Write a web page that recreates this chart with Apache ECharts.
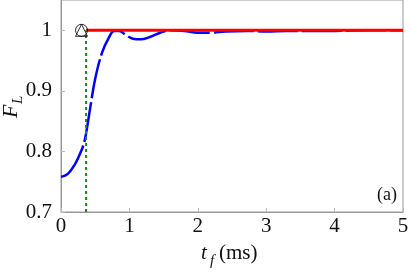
<!DOCTYPE html>
<html><head><meta charset="utf-8">
<script src="https://cdn.jsdelivr.net/npm/echarts@6/dist/echarts.min.js"></script>
<style>html,body{margin:0;padding:0;background:#fff}#c{width:411px;height:273px}</style>
</head><body><div id="c"></div>
<script>
const tValues = [0,0.1,0.2,0.3,0.35,0.43,0.5,0.6,0.7,0.78,0.85,0.95,1.05,1.17,1.3,1.45,1.6,1.8,2.0,2.2,2.4,2.7,3.0,3.3,3.6,4.0,4.5,5.0];
const fidelity = [0.758,0.763,0.778,0.802,0.82,0.874,0.92,0.963,0.988,0.999,0.999,0.992,0.986,0.985,0.989,0.996,1.0,0.999,0.996,0.996,0.998,0.999,0.998,0.999,0.999,0.999,1.0,1.0];
const tOpt = 0.366;
const targetF = 1.0;
const markerT = 0.30;
const xTicks = [0,1,2,3,4,5];
const yTicks = [0.7,0.8,0.9,1.0];

const font = 'Liberation Serif';
const chart = echarts.init(document.getElementById('c'));
function txt(x,y,text,size,italic,rot){
  return {type:'text',x:x,y:y,rotation:rot||0,silent:true,
    style:{text:text,fontFamily:font,fontSize:size,fontStyle:italic?'italic':'normal',fill:'#111',
      textAlign:'left',textVerticalAlign:'bottom'}};
}
chart.setOption({
  animation:false,
  grid:{left:61,right:8,top:0,bottom:61,containLabel:false,outerBoundsMode:'none',show:true,borderColor:'#999',borderWidth:1},
  xAxis:{type:'value',min:0,max:5,interval:1,
    axisLine:{show:true,lineStyle:{color:'#999'}},
    axisTick:{show:true,inside:true,length:4,lineStyle:{color:'#bbb'}},
    splitLine:{show:false},
    axisLabel:{color:'#111',fontFamily:font,fontSize:21,margin:4,
      formatter:v=>xTicks.includes(v)?String(v):''}
  },
  yAxis:{type:'value',min:0.7,max:1.05,interval:0.1,
    axisLine:{show:true,lineStyle:{color:'#999'}},
    axisTick:{show:true,inside:true,length:4,lineStyle:{color:'#bbb'}},
    splitLine:{show:false},
    axisLabel:{color:'#111',fontFamily:font,fontSize:21,margin:9,showMaxLabel:false,
      formatter:v=>{const m=yTicks.find(y=>Math.abs(y-v)<1e-6); if(m===undefined)return ''; return m===1?'1':m.toFixed(1);}}
  },
  series:[
    {type:'line',data:tValues.map((t,i)=>[t,fidelity[i]]),smooth:0.4,showSymbol:false,
      lineStyle:{color:'#0000ff',width:2.5,type:[40,4]},z:2},
    {type:'line',data:[[tOpt,targetF],[5,targetF]],showSymbol:false,
      lineStyle:{color:'#ff0000',width:3},z:3},
    {type:'line',data:[[tOpt,0.7],[tOpt,targetF]],showSymbol:false,
      lineStyle:{color:'#00a000',width:2,type:[3,3]},z:4},
    {type:'scatter',data:[[markerT,targetF]],symbol:'circle',symbolSize:12,
      itemStyle:{color:'rgba(0,0,0,0)',borderColor:'#000',borderWidth:1},z:5},
    {type:'scatter',data:[[markerT,targetF]],symbol:'triangle',symbolSize:12,
      itemStyle:{color:'rgba(0,0,0,0)',borderColor:'#000',borderWidth:1},z:5}
  ],
  graphic:[
    txt(201,264,'t',21,true),
    txt(210,269,'f',15,true),
    txt(219,264,'(ms)',21,false),
    txt(22,118,'F',22,true,Math.PI/2),
    txt(26,104,'L',15,true,Math.PI/2),
    {type:'text',right:14,top:186,style:{text:'(a)',fontFamily:font,fontSize:18,fill:'#111'}}
  ]
});
</script></body></html>
